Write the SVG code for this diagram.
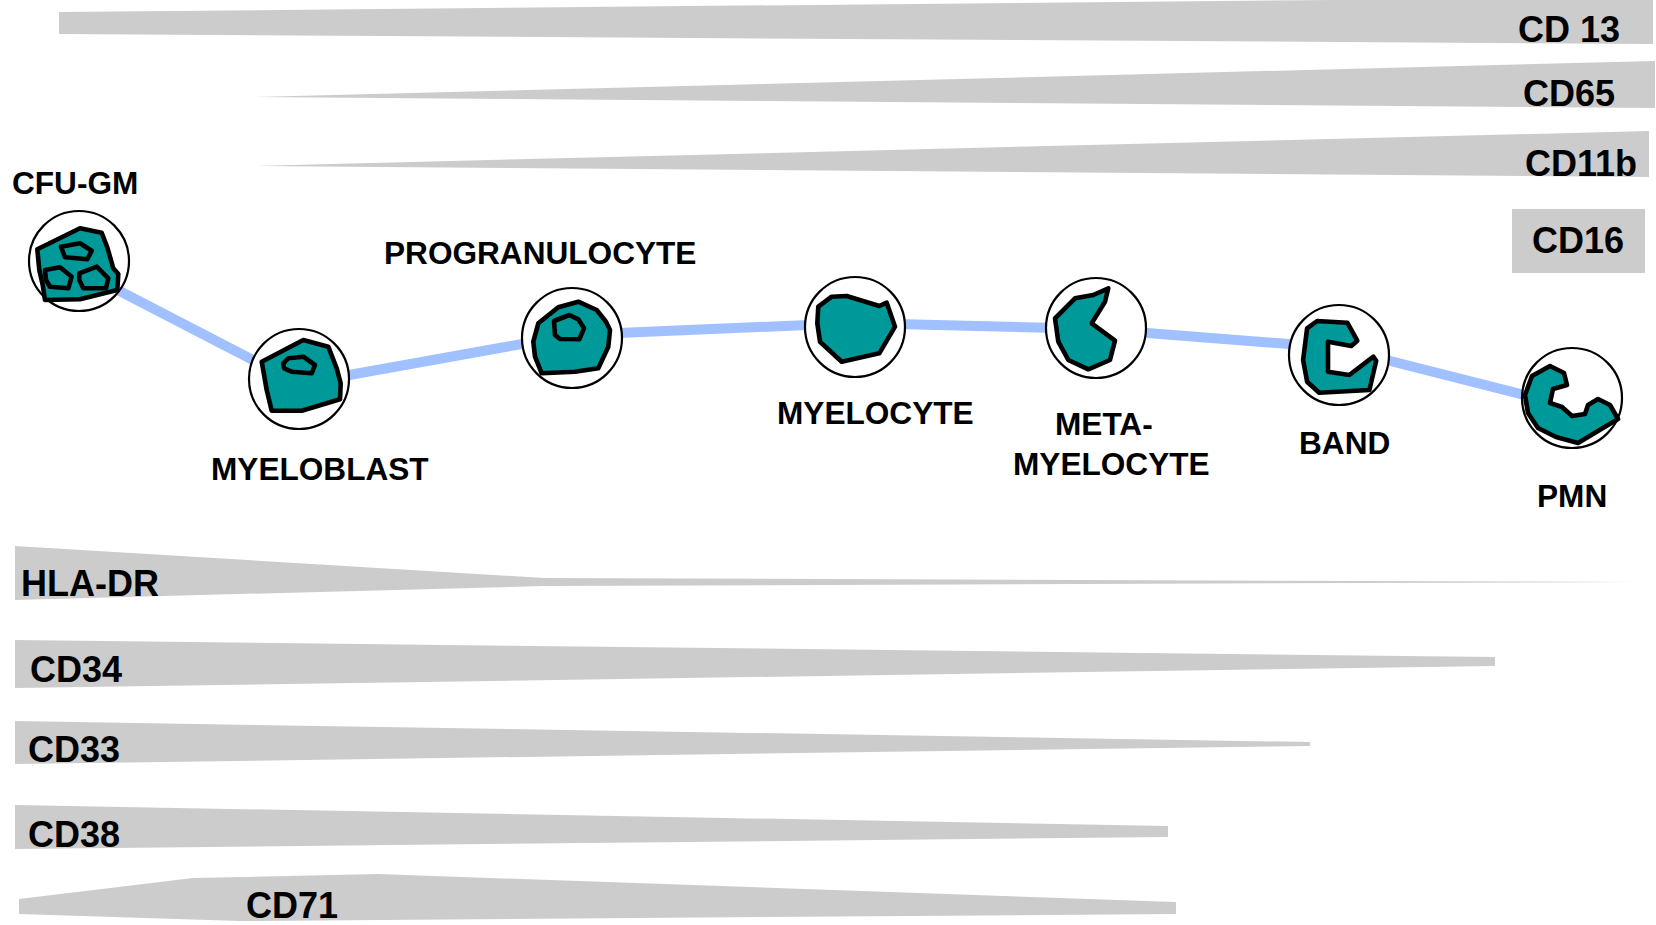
<svg xmlns="http://www.w3.org/2000/svg" width="1656" height="925" viewBox="0 0 1656 925">
  <style>
    .band { fill: #cccccc; }
    .mk { font-family: "Liberation Sans", Arial, sans-serif; font-weight: bold; font-size: 36px; fill: #000; }
    .lbl { font-family: "Liberation Sans", Arial, sans-serif; font-weight: bold; font-size: 31.6px; fill: #000; }
    .ring { fill: #ffffff; stroke: #000; stroke-width: 2.2; }
    .nuc { fill: #009999; stroke: #000; stroke-width: 4.6; stroke-linejoin: round; }
    .path { fill: none; stroke: #a0c0ff; stroke-width: 10; stroke-linejoin: round; }
  </style>
  <rect width="1656" height="925" fill="#ffffff"/>

  <!-- expression bands: late markers (top) -->
  <g id="marker-cd13">
    <polygon class="band" points="59,12 1653,-3 1653,44 59,34"/>
    <text class="mk" x="1518" y="42">CD 13</text>
  </g>
  <g id="marker-cd65">
    <polygon class="band" points="255,97 1655,61 1655,108"/>
    <text class="mk" x="1523" y="106">CD65</text>
  </g>
  <g id="marker-cd11b">
    <polygon class="band" points="252,166 1649,131 1649,177"/>
    <text class="mk" x="1525" y="176">CD11b</text>
  </g>
  <g id="marker-cd16">
    <rect class="band" x="1512" y="209" width="133" height="64"/>
    <text class="mk" x="1532" y="253">CD16</text>
  </g>

  <!-- expression bands: early markers (bottom) -->
  <g id="marker-hla-dr">
    <polygon class="band" points="15,546 544,578 1637,582 544,586 15,600"/>
    <text class="mk" x="21" y="596">HLA-DR</text>
  </g>
  <g id="marker-cd34">
    <polygon class="band" points="15,640 1495,657 1495,666 15,688"/>
    <text class="mk" x="30" y="682">CD34</text>
  </g>
  <g id="marker-cd33">
    <polygon class="band" points="15,721 1310,742 1310,746 15,764"/>
    <text class="mk" x="28" y="762">CD33</text>
  </g>
  <g id="marker-cd38">
    <polygon class="band" points="15,805 1168,826 1168,837 15,849"/>
    <text class="mk" x="28" y="847">CD38</text>
  </g>
  <g id="marker-cd71">
    <polygon class="band" points="19,899 193,878 378,874 1176,902 1176,914 240,921 19,914"/>
    <text class="mk" x="246" y="918">CD71</text>
  </g>

  <!-- maturation path -->
  <g id="connectors">
    <polyline class="path" points="79,270 299,384 572,335 855,323 1096,329 1339,348 1572,407"/>
  </g>

  <!-- cells -->
  <g id="cell-cfu-gm">
    <circle class="ring" cx="79" cy="261" r="50"/>
    <polygon class="nuc" points="37.3,249.3 80,228.3 101.7,232.7 107.3,247.3 113.3,268.3 118.3,274 117.3,290 80,299.3 45,300 42.7,285 39.3,270"/>
    <polygon class="nuc" points="61,246.7 80,243.3 91.7,250.7 87.3,259.3 65,257.3"/>
    <polygon class="nuc" points="45,270 60,267.3 71.7,276.7 68.3,288.3 50,286.7 46,280"/>
    <polygon class="nuc" points="79.3,273.3 96.7,266.7 108.3,278.3 106,288.3 83.3,288.3 79.3,280"/>
    <text class="lbl" x="12" y="194">CFU-GM</text>
  </g>
  <g id="cell-myeloblast">
    <circle class="ring" cx="299" cy="379" r="50"/>
    <polygon class="nuc" points="261.7,361.7 303.3,340 328.3,346.7 336.7,368.3 340.7,383.3 340,399.3 301.7,410.7 271.7,410.7 266.7,390"/>
    <polygon class="nuc" points="283.3,363.3 288.3,358.3 303.3,356.7 315,365 311.7,373.3 291.7,371.7 284,368.3"/>
    <text class="lbl" x="211" y="480">MYELOBLAST</text>
  </g>
  <g id="cell-progranulocyte">
    <circle class="ring" cx="572" cy="338" r="50"/>
    <polygon class="nuc" points="538.3,323.3 558.3,307.3 578.3,301.7 596.7,310 606,321.7 610,330 608.3,346.7 598.3,368.3 575,371.7 541.7,373.3 535,356.7 533.3,341.7"/>
    <polygon class="nuc" points="554,321 569.3,315 578.3,319.3 584,328.3 579.3,339.3 560,339 555,335"/>
    <text class="lbl" x="384" y="264">PROGRANULOCYTE</text>
  </g>
  <g id="cell-myelocyte">
    <circle class="ring" cx="855" cy="327" r="50"/>
    <polygon class="nuc" points="818.3,306.7 831.7,296.7 846.7,296 879.3,306 886.7,302.7 895,326.7 879.3,353.3 841.7,361.7 820,341.7 817.3,323.3"/>
    <text class="lbl" x="777" y="424">MYELOCYTE</text>
  </g>
  <g id="cell-metamyelocyte">
    <circle class="ring" cx="1096" cy="328" r="50"/>
    <polygon class="nuc" points="1055,318.3 1075,298.3 1093.3,295 1108.3,288.3 1105,301.7 1091.7,323.3 1115,340.7 1110,360 1088.3,369.3 1068.3,360 1058.3,341.7"/>
    <text class="lbl" x="1055" y="435">META-</text>
    <text class="lbl" x="1013" y="475">MYELOCYTE</text>
  </g>
  <g id="cell-band">
    <circle class="ring" cx="1339" cy="355" r="50"/>
    <polygon class="nuc" points="1307.1,328.3 1317.1,321 1347.3,322.7 1357.3,340.7 1351.3,346 1328,341.7 1328,371.7 1349.3,375 1373.4,356.7 1376.2,360.7 1369.4,390 1319.2,392.7 1307.1,381.7 1303.1,360"/>
    <text class="lbl" x="1299" y="454">BAND</text>
  </g>
  <g id="cell-pmn">
    <circle class="ring" cx="1572" cy="398" r="50"/>
    <polygon class="nuc" points="1525,395 1532,376 1550,366 1564,373 1567,385 1553,389 1550,403 1562,407 1572,416 1585,414 1588,405 1598,399 1610,405 1618,419 1593,434 1578,443 1556,437 1538,428 1528,413"/>
    <text class="lbl" x="1537" y="507">PMN</text>
  </g>
</svg>
